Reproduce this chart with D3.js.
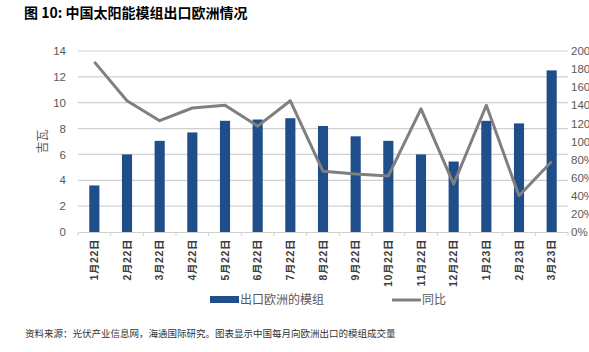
<!DOCTYPE html>
<html lang="zh">
<head>
<meta charset="utf-8">
<title>中国太阳能模组出口欧洲情况</title>
<script src="https://d3js.org/d3.v7.min.js"></script>
<style>
  body { margin: 0; background: #fff; }
  text { font-family: "Noto Sans CJK SC", "Noto Sans", sans-serif; }
  .title { font-size: 14px; font-weight: bold; fill: #000; }
  .axis text { font-size: 11.5px; fill: #595959; font-family: "Liberation Sans", "Noto Sans CJK SC", sans-serif; }
  .xaxis text { font-size: 10.5px; fill: #404040; font-weight: bold; }
  .legend text { font-size: 12px; fill: #595959; }
  .source { font-size: 9.5px; fill: #333; }
</style>
</head>
<body>
<div id="chart"></div>
<script>
// data
const months = ["1月22日", "2月22日", "3月22日", "4月22日", "5月22日", "6月22日", "7月22日", "8月22日",
                "9月22日", "10月22日", "11月22日", "12月22日", "1月23日", "2月23日", "3月23日"];
const exports = [3.6, 6.0, 7.05, 7.7, 8.6, 8.7, 8.8, 8.2, 7.4, 7.05, 6.0, 5.45, 8.6, 8.4, 12.5];
const yoy = [188, 145, 123, 137, 140, 117, 145, 67, 64, 62, 136, 53, 140, 40, 78];
const leftTicks = [0, 2, 4, 6, 8, 10, 12, 14];
const rightTicks = [0, 20, 40, 60, 80, 100, 120, 140, 160, 180, 200];

const W = 589, H = 352;
const plot = { left: 78, right: 568, top: 51, bottom: 232 };

const svg = d3.select("#chart").append("svg")
  .attr("width", W).attr("height", H);

svg.append("text").attr("class", "title")
  .attr("x", 24).attr("y", 18)
  .text("图 10:  中国太阳能模组出口欧洲情况");

const x = d3.scaleBand().domain(months).range([plot.left, plot.right]).paddingInner(0.69).paddingOuter(0.345);
const xb = d3.scaleBand().domain(months).range([plot.left, plot.right]);
const yL = d3.scaleLinear().domain([0, 14]).range([plot.bottom, plot.top]);
const yR = d3.scaleLinear().domain([0, 200]).range([plot.bottom, plot.top]);

// gridlines
svg.append("g")
  .selectAll("line").data(leftTicks.slice(1)).join("line")
  .attr("x1", plot.left).attr("x2", plot.right)
  .attr("y1", d => yL(d)).attr("y2", d => yL(d))
  .attr("stroke", "#d0d0d0").attr("stroke-width", 1.2);

// left axis
const gl = svg.append("g").attr("class", "axis")
  .attr("transform", `translate(${plot.left},0)`)
  .call(d3.axisLeft(yL).tickValues(leftTicks).tickSize(0).tickPadding(12));
gl.select(".domain").remove();

// right axis (labels run off the right edge, as in the source image)
const gr = svg.append("g").attr("class", "axis")
  .attr("transform", `translate(${plot.right},0)`)
  .call(d3.axisRight(yR).tickValues(rightTicks).tickSize(0).tickPadding(3).tickFormat(d => d + "%"));
gr.select(".domain").remove();

svg.append("text").attr("class", "axis")
  .attr("transform", `translate(47,${(plot.top + plot.bottom) / 2}) rotate(-90)`)
  .attr("text-anchor", "middle")
  .style("font-size", "12px").style("fill", "#595959")
  .text("吉瓦");

// bars
svg.append("g").selectAll("rect").data(months).join("rect")
  .attr("x", d => x(d))
  .attr("width", x.bandwidth())
  .attr("y", (d, i) => yL(exports[i]))
  .attr("height", (d, i) => plot.bottom - yL(exports[i]))
  .attr("fill", "#1f4e8a");

// x axis
const gx = svg.append("g").attr("class", "axis xaxis")
  .attr("transform", `translate(0,${plot.bottom})`)
  .call(d3.axisBottom(xb).tickSize(0).tickPadding(0));
gx.select(".domain").attr("stroke", "#d0d0d0").attr("stroke-width", 1.2);
gx.selectAll(".tick text")
  .attr("transform", "rotate(-90)")
  .attr("text-anchor", "end")
  .attr("x", -7).attr("y", 0).attr("dy", "0.35em")
  .attr("letter-spacing", "0.6px");
svg.append("g").selectAll("line").data(months.concat(["end"])).join("line")
  .attr("x1", (d, i) => plot.left + i * xb.step())
  .attr("x2", (d, i) => plot.left + i * xb.step())
  .attr("y1", plot.bottom).attr("y2", plot.bottom + 4)
  .attr("stroke", "#d0d0d0").attr("stroke-width", 1);

// yoy line
const line = d3.line()
  .x((d, i) => xb(months[i]) + xb.bandwidth() / 2)
  .y(d => yR(d));
svg.append("path").datum(yoy)
  .attr("d", line)
  .attr("fill", "none")
  .attr("stroke", "#7f7f7f")
  .attr("stroke-width", 3)
  .attr("stroke-linejoin", "round");

// legend
const lg = svg.append("g").attr("class", "legend");
lg.append("rect").attr("x", 210).attr("y", 296).attr("width", 29).attr("height", 7).attr("fill", "#1f4e8a");
lg.append("text").attr("x", 240).attr("y", 304).text("出口欧洲的模组");
lg.append("line").attr("x1", 392).attr("x2", 421).attr("y1", 300).attr("y2", 300)
  .attr("stroke", "#7f7f7f").attr("stroke-width", 3);
lg.append("text").attr("x", 422).attr("y", 304).text("同比");

svg.append("text").attr("class", "source")
  .attr("x", 25).attr("y", 337)
  .text("资料来源：光伏产业信息网，海通国际研究。图表显示中国每月向欧洲出口的模组成交量");
</script>
</body>
</html>
